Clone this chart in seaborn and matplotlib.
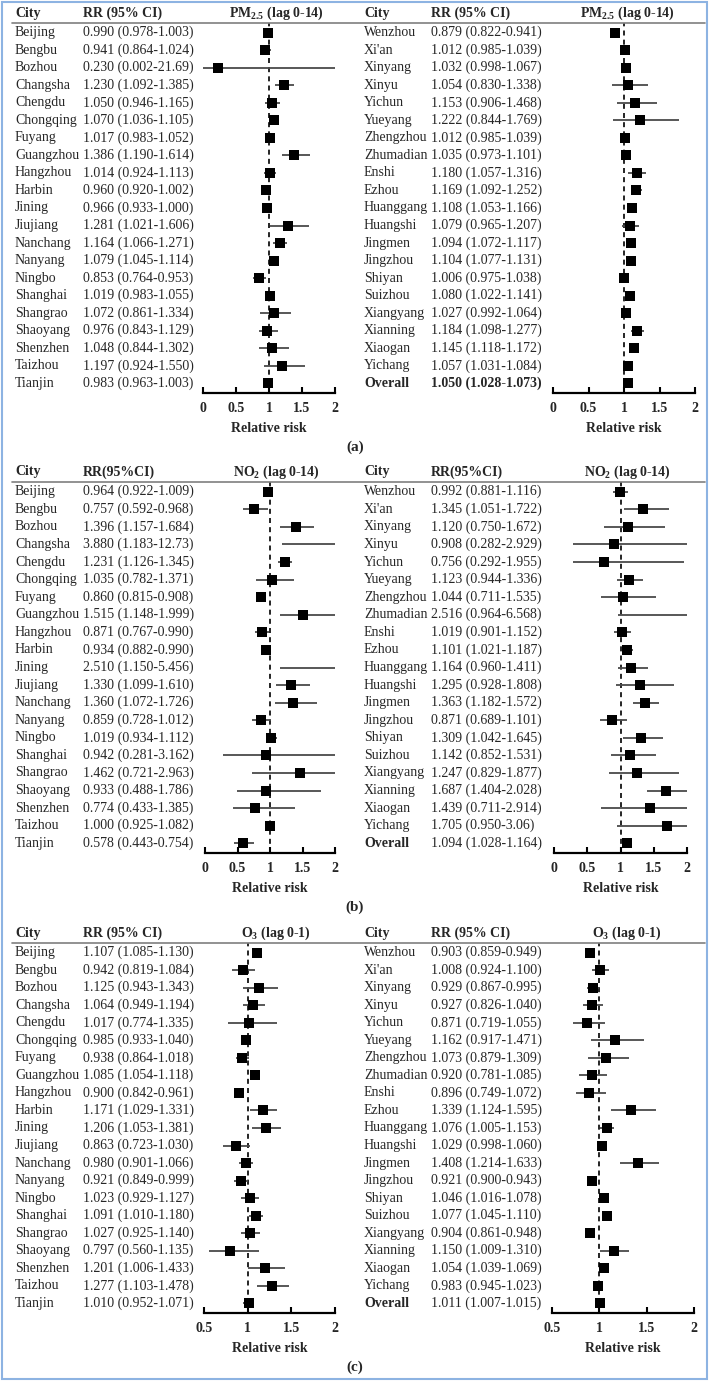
import matplotlib
matplotlib.use("Agg")
import matplotlib.pyplot as plt
import matplotlib.transforms as mtransforms
from matplotlib.lines import Line2D
from matplotlib.patches import Rectangle
import seaborn as sns

# ----------------------------
# DATA
# ----------------------------
cities_left = ["Beijing", "Bengbu", "Bozhou", "Changsha", "Chengdu", "Chongqing", "Fuyang",
               "Guangzhou", "Hangzhou", "Harbin", "Jining", "Jiujiang", "Nanchang", "Nanyang",
               "Ningbo", "Shanghai", "Shangrao", "Shaoyang", "Shenzhen", "Taizhou", "Tianjin"]
cities_right = ["Wenzhou", "Xi'an", "Xinyang", "Xinyu", "Yichun", "Yueyang", "Zhengzhou",
                "Zhumadian", "Enshi", "Ezhou", "Huanggang", "Huangshi", "Jingmen", "Jingzhou",
                "Shiyan", "Suizhou", "Xiangyang", "Xianning", "Xiaogan", "Yichang", "Overall"]

pm25_left = ["0.990 (0.978-1.003)", "0.941 (0.864-1.024)", "0.230 (0.002-21.69)",
             "1.230 (1.092-1.385)", "1.050 (0.946-1.165)", "1.070 (1.036-1.105)",
             "1.017 (0.983-1.052)", "1.386 (1.190-1.614)", "1.014 (0.924-1.113)",
             "0.960 (0.920-1.002)", "0.966 (0.933-1.000)", "1.281 (1.021-1.606)",
             "1.164 (1.066-1.271)", "1.079 (1.045-1.114)", "0.853 (0.764-0.953)",
             "1.019 (0.983-1.055)", "1.072 (0.861-1.334)", "0.976 (0.843-1.129)",
             "1.048 (0.844-1.302)", "1.197 (0.924-1.550)", "0.983 (0.963-1.003)"]
pm25_right = ["0.879 (0.822-0.941)", "1.012 (0.985-1.039)", "1.032 (0.998-1.067)",
              "1.054 (0.830-1.338)", "1.153 (0.906-1.468)", "1.222 (0.844-1.769)",
              "1.012 (0.985-1.039)", "1.035 (0.973-1.101)", "1.180 (1.057-1.316)",
              "1.169 (1.092-1.252)", "1.108 (1.053-1.166)", "1.079 (0.965-1.207)",
              "1.094 (1.072-1.117)", "1.104 (1.077-1.131)", "1.006 (0.975-1.038)",
              "1.080 (1.022-1.141)", "1.027 (0.992-1.064)", "1.184 (1.098-1.277)",
              "1.145 (1.118-1.172)", "1.057 (1.031-1.084)", "1.050 (1.028-1.073)"]

no2_left = ["0.964 (0.922-1.009)", "0.757 (0.592-0.968)", "1.396 (1.157-1.684)",
            "3.880 (1.183-12.73)", "1.231 (1.126-1.345)", "1.035 (0.782-1.371)",
            "0.860 (0.815-0.908)", "1.515 (1.148-1.999)", "0.871 (0.767-0.990)",
            "0.934 (0.882-0.990)", "2.510 (1.150-5.456)", "1.330 (1.099-1.610)",
            "1.360 (1.072-1.726)", "0.859 (0.728-1.012)", "1.019 (0.934-1.112)",
            "0.942 (0.281-3.162)", "1.462 (0.721-2.963)", "0.933 (0.488-1.786)",
            "0.774 (0.433-1.385)", "1.000 (0.925-1.082)", "0.578 (0.443-0.754)"]
no2_right = ["0.992 (0.881-1.116)", "1.345 (1.051-1.722)", "1.120 (0.750-1.672)",
             "0.908 (0.282-2.929)", "0.756 (0.292-1.955)", "1.123 (0.944-1.336)",
             "1.044 (0.711-1.535)", "2.516 (0.964-6.568)", "1.019 (0.901-1.152)",
             "1.101 (1.021-1.187)", "1.164 (0.960-1.411)", "1.295 (0.928-1.808)",
             "1.363 (1.182-1.572)", "0.871 (0.689-1.101)", "1.309 (1.042-1.645)",
             "1.142 (0.852-1.531)", "1.247 (0.829-1.877)", "1.687 (1.404-2.028)",
             "1.439 (0.711-2.914)", "1.705 (0.950-3.06)", "1.094 (1.028-1.164)"]

o3_left = ["1.107 (1.085-1.130)", "0.942 (0.819-1.084)", "1.125 (0.943-1.343)",
           "1.064 (0.949-1.194)", "1.017 (0.774-1.335)", "0.985 (0.933-1.040)",
           "0.938 (0.864-1.018)", "1.085 (1.054-1.118)", "0.900 (0.842-0.961)",
           "1.171 (1.029-1.331)", "1.206 (1.053-1.381)", "0.863 (0.723-1.030)",
           "0.980 (0.901-1.066)", "0.921 (0.849-0.999)", "1.023 (0.929-1.127)",
           "1.091 (1.010-1.180)", "1.027 (0.925-1.140)", "0.797 (0.560-1.135)",
           "1.201 (1.006-1.433)", "1.277 (1.103-1.478)", "1.010 (0.952-1.071)"]
o3_right = ["0.903 (0.859-0.949)", "1.008 (0.924-1.100)", "0.929 (0.867-0.995)",
            "0.927 (0.826-1.040)", "0.871 (0.719-1.055)", "1.162 (0.917-1.471)",
            "1.073 (0.879-1.309)", "0.920 (0.781-1.085)", "0.896 (0.749-1.072)",
            "1.339 (1.124-1.595)", "1.076 (1.005-1.153)", "1.029 (0.998-1.060)",
            "1.408 (1.214-1.633)", "0.921 (0.900-0.943)", "1.046 (1.016-1.078)",
            "1.077 (1.045-1.110)", "0.904 (0.861-0.948)", "1.150 (1.009-1.310)",
            "1.054 (1.039-1.069)", "0.983 (0.945-1.023)", "1.011 (1.007-1.015)"]

titles = [r"PM$_{2.5}$ (lag 0-14)", r"NO$_{2}$ (lag 0-14)", r"O$_{3}$ (lag 0-1)"]
rr_headers = ["RR (95% CI)", "RR(95%CI)", "RR (95% CI)"]
panel_labels = ["(a)", "(b)", "(c)"]
ticks_ab = [0, 0.5, 1, 1.5, 2]
ticks_c = [0.5, 1, 1.5, 2]

# ----------------------------
# STYLE
# ----------------------------
sns.set_theme(style="white")
plt.rcParams["font.family"] = ["Liberation Serif", "DejaVu Serif"]
plt.rcParams["mathtext.fontset"] = "custom"
plt.rcParams["mathtext.rm"] = "Liberation Serif"
plt.rcParams["mathtext.bf"] = "Liberation Serif:bold"
plt.rcParams["mathtext.default"] = "bf"

W, H = 710, 1381
FS = 10


def parse(s):
    rr, ci = s.split(" (")
    lo, hi = ci.rstrip(")").split("-")
    return float(rr), float(lo), float(hi)


# ----------------------------
# ONE HALF OF A PANEL (table + forest)
# ----------------------------
def draw_half(fig, cities, vals, x_city, x_rr, x0, x1, y_hdr, y_axis,
              xlim, ticks, title, title_x, rr_head, overall_val_bold):
    ax = fig.add_axes([x0 / W, 1 - y_axis / H, (x1 - x0) / W, (y_axis - y_hdr) / H])
    ax.patch.set_alpha(0)
    parsed = [parse(v) for v in vals]
    rr = [p[0] for p in parsed]
    lo = [p[1] for p in parsed]
    hi = [p[2] for p in parsed]
    rows = list(range(len(cities)))

    ax.axvline(1, color="black", ls=(0, (3, 2.5)), lw=1.2, zorder=1)
    ax.hlines(rows, lo, hi, color="#4a4a4a", lw=1.3, zorder=2)
    sns.scatterplot(x=rr, y=rows, marker="s", s=46, color="black",
                    linewidth=0, ax=ax, zorder=3)

    ax.set_xlim(xlim)
    ax.set_ylim(20.55, -0.55)
    ax.set_yticks([])
    ax.set_xticks(ticks)
    ax.set_xticklabels([f"{t:g}" for t in ticks], fontweight="bold", fontsize=FS)
    ax.tick_params(axis="x", direction="in", length=4, width=1.5, pad=6.5,
                   color="black", bottom=True)
    for side in ["top", "left", "right"]:
        ax.spines[side].set_visible(False)
    ax.spines["bottom"].set_linewidth(1.6)
    ax.spines["bottom"].set_color("black")
    ax.set_xlabel("Relative risk", fontweight="bold", fontsize=FS, labelpad=5)
    ax.set_ylabel("")

    tr = mtransforms.blended_transform_factory(fig.transFigure, ax.transData)
    hy = -1.12
    ax.text(x_city / W, hy, "City", transform=tr, fontsize=FS, fontweight="bold", va="center")
    ax.text(x_rr / W, hy, rr_head, transform=tr, fontsize=FS, fontweight="bold", va="center")
    ax.text(title_x / W, hy, title, transform=tr, fontsize=FS, fontweight="bold",
            va="center", ha="center")

    for i, (c, v) in enumerate(zip(cities, vals)):
        is_all = c == "Overall"
        ax.text(x_city / W, i, c, transform=tr, fontsize=FS, va="center",
                fontweight="bold" if is_all else "normal")
        ax.text(x_rr / W, i, v, transform=tr, fontsize=FS, va="center",
                fontweight="bold" if (is_all and overall_val_bold) else "normal")
    return ax


fig = plt.figure(figsize=(W / 100, H / 100), dpi=100)

panels = [
    dict(left=pm25_left, right=pm25_right, y_hdr=23, y_axis=393, lab_y=447,
         lx=(203, 335), rx=(553, 695), xlim=(0, 2), ticks=ticks_ab, obold=True),
    dict(left=no2_left, right=no2_right, y_hdr=482, y_axis=853, lab_y=907,
         lx=(205, 335), rx=(554, 687), xlim=(0, 2), ticks=ticks_ab, obold=False),
    dict(left=o3_left, right=o3_right, y_hdr=943, y_axis=1313, lab_y=1367,
         lx=(204, 335), rx=(552, 694), xlim=(0.5, 2), ticks=ticks_c, obold=False),
]

for k, p in enumerate(panels):
    draw_half(fig, cities_left, p["left"], 15, 83, p["lx"][0], p["lx"][1],
              p["y_hdr"], p["y_axis"], p["xlim"], p["ticks"], titles[k], 276,
              rr_headers[k], p["obold"])
    draw_half(fig, cities_right, p["right"], 364, 431, p["rx"][0], p["rx"][1],
              p["y_hdr"], p["y_axis"], p["xlim"], p["ticks"], titles[k], 627,
              rr_headers[k], p["obold"])
    fig.add_artist(Line2D([12 / W, 705 / W], [1 - p["y_hdr"] / H] * 2,
                          color="#7f7f7f", lw=1.2))
    fig.text(355 / W, 1 - p["lab_y"] / H, panel_labels[k], ha="center", va="center",
             fontsize=11, fontweight="bold")

# light blue frame round the whole figure
fig.add_artist(Rectangle((2 / W, 2 / H), 705 / W, 1377 / H, transform=fig.transFigure,
                         fill=False, ec="#8db3e2", lw=1.5))

fig.savefig("out.png", dpi=100)
plt.close(fig)
